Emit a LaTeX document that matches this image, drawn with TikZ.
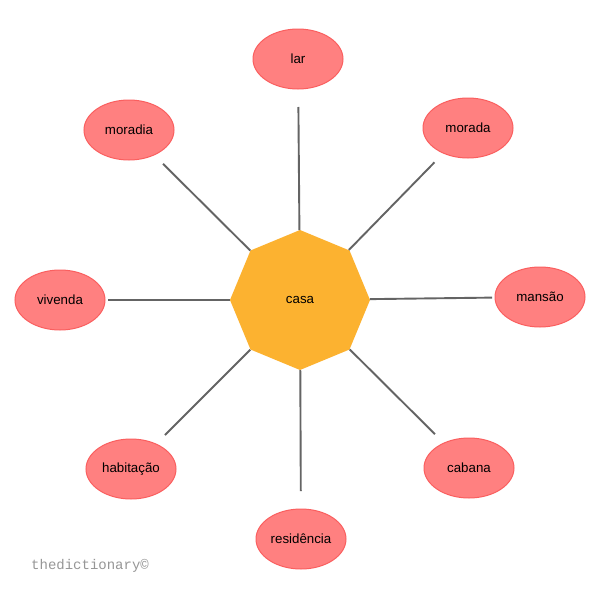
\documentclass[tikz,border=0pt]{standalone}
\usepackage{fontspec}
\setmainfont{Liberation Sans}
\newfontfamily\wmfont{Liberation Mono}
\usetikzlibrary{shapes.geometric,calc}
\definecolor{leaf}{RGB}{255,128,128}
\definecolor{leafedge}{RGB}{250,95,95}
\definecolor{hub}{RGB}{252,178,48}
\definecolor{wire}{RGB}{100,100,100}
\definecolor{wm}{RGB}{150,150,150}
\tikzset{
  leafnode/.style={ellipse, fill=leaf, draw=leafedge, line width=1pt, minimum width=90pt, minimum height=60pt, inner sep=0pt, font=\fontsize{13.3}{15}\selectfont},
  hubnode/.style={regular polygon, regular polygon sides=8, shape border rotate=22.5, fill=hub, minimum size=140pt, inner sep=0pt, font=\fontsize{13.3}{15}\selectfont},
  link/.style={draw=wire, line width=1.9pt}
}
\begin{document}
\begin{tikzpicture}[x=1pt,y=-1pt]
\useasboundingbox[fill=white] (0,0) rectangle (600,600);
\node[hubnode] (casa) at (300,300) {casa};
\node[leafnode] (lar) at (298,59) {lar};
\node[leafnode] (morada) at (468,128) {morada};
\node[leafnode] (mansao) at (540,297) {mansão};
\node[leafnode] (cabana) at (469,468) {cabana};
\node[leafnode] (residencia) at (301,539) {residência};
\node[leafnode] (habitacao) at (131,469) {habitação};
\node[leafnode] (vivenda) at (60,300) {vivenda};
\node[leafnode] (moradia) at (129,130) {moradia};
\foreach \n in {lar,morada,mansao,cabana,residencia,habitacao,vivenda,moradia}{
  \draw[link] (casa) -- ($(\n)!48pt!(casa)$);
}
\node[anchor=west, text=wm, font=\wmfont\fontsize{14}{15}\selectfont, inner sep=0pt] (wmark) at (31,566) {thedictionary©};
\end{tikzpicture}
\end{document}
